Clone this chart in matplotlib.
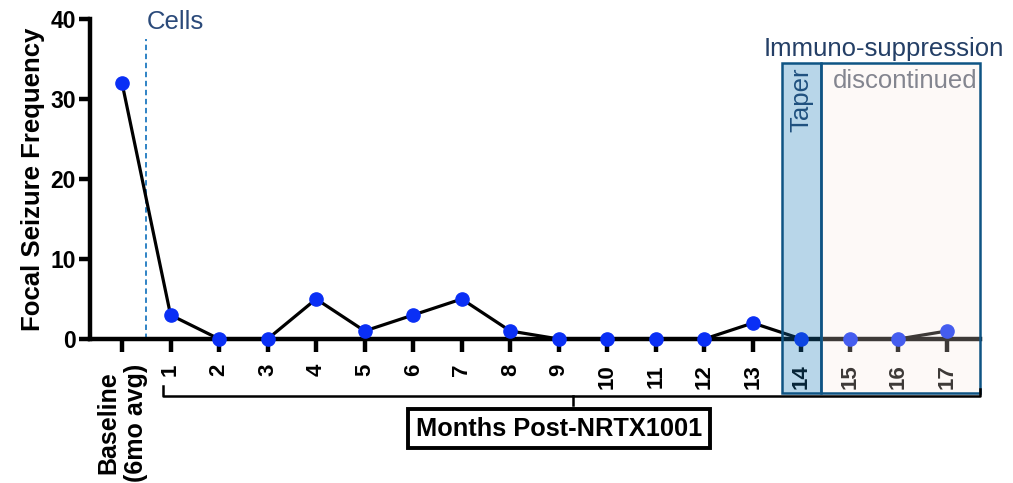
import matplotlib
matplotlib.use("Agg")
import matplotlib.pyplot as plt
from matplotlib.patches import Rectangle

plt.rcParams["font.family"] = ["Liberation Sans", "DejaVu Sans"]

# ---- data ----
x_labels = ["Baseline\n(6mo avg)"] + [str(m) for m in range(1, 18)]
x_pos = list(range(len(x_labels)))
seizures = [32, 3, 0, 0, 5, 1, 3, 5, 1, 0, 0, 0, 0, 2, 0, 0, 0, 1]
y_ticks = [0, 10, 20, 30, 40]

cells_x = 0.5
taper_span = (13.6, 14.4)
stop_span = (14.4, 17.68)

NAVY = "#0e5484"

fig = plt.figure(figsize=(10.13, 4.83), dpi=100)
ax = fig.add_axes([90 / 1013, 1 - 339 / 483, 890 / 1013, 320 / 483])

ax.plot(x_pos, seizures, color="black", lw=2.3, zorder=3, clip_on=False)
ax.plot(x_pos, seizures, "o", color="#0a2ff5", ms=9.5, zorder=4, clip_on=False)

ax.set_xlim(-0.66, 17.68)
ax.set_ylim(0, 40)

for s in ["top", "right"]:
    ax.spines[s].set_visible(False)
for s in ["left", "bottom"]:
    ax.spines[s].set_linewidth(3.2)

ax.set_yticks(y_ticks)
ax.set_yticklabels([str(v) for v in y_ticks], fontsize=16.5, fontweight="bold")
ax.set_xticks(x_pos)
ax.set_xticklabels(x_labels, rotation=90, fontsize=16, fontweight="bold", va="top", ha="center")
ax.get_xticklabels()[0].set_fontsize(18)
ax.tick_params(axis="x", length=9, width=3.2, pad=9)
ax.tick_params(axis="y", length=8, width=3.2, pad=2)
ax.set_ylabel("Focal Seizure Frequency", fontsize=18.5, fontweight="bold", labelpad=4)

# cells line
ax.plot([cells_x, cells_x], [0, 37.5], ls=(0, (3, 2)), color="#1f7ac0", lw=1.3, zorder=2)
ax.text(cells_x, 39.6, "Cells", color="#2b4a7a", fontsize=18.5, ha="left", va="center")

# shaded periods (drawn on top, semi-transparent)
rect_bot, rect_top = -6.75, 34.5
ax.add_patch(Rectangle((taper_span[0], rect_bot), taper_span[1] - taper_span[0], rect_top - rect_bot,
                       facecolor=(22 / 255, 122 / 255, 185 / 255, 0.3), edgecolor=NAVY, lw=1.8,
                       zorder=5, clip_on=False))
ax.add_patch(Rectangle((stop_span[0], rect_bot), stop_span[1] - stop_span[0], rect_top - rect_bot,
                       facecolor=(248 / 255, 232 / 255, 224 / 255, 0.25), edgecolor=NAVY, lw=1.8,
                       zorder=5, clip_on=False))
ax.text(sum(stop_span) / 2 - 0.35, 36.2, "Immuno-suppression", color="#243f66", fontsize=18.5,
        ha="center", va="center", clip_on=False)
ax.text(sum(stop_span) / 2 + 0.1, 32.3, "discontinued", color="#5d6575", fontsize=18.5,
        ha="center", va="center")
ax.text(sum(taper_span) / 2, 33.9, "Taper", color="#243f66", fontsize=18.5, rotation=90,
        ha="center", va="top")

# bracket + x label box
br_y = -7.1
ax.plot([0.85, 0.85, stop_span[1], stop_span[1]], [-5.9, br_y, br_y, -6.2], color="black",
        lw=1.8, clip_on=False, zorder=6)
ax.plot([9.3, 9.3], [br_y, -8.3], color="black", lw=1.8, clip_on=False)
ax.text(9.0, -11.2, "Months Post-NRTX1001", fontsize=18.3, fontweight="bold", ha="center", va="center",
        bbox=dict(boxstyle="square,pad=0.3", facecolor="white", edgecolor="black", lw=2.8))

fig.savefig("out.png", dpi=100)
